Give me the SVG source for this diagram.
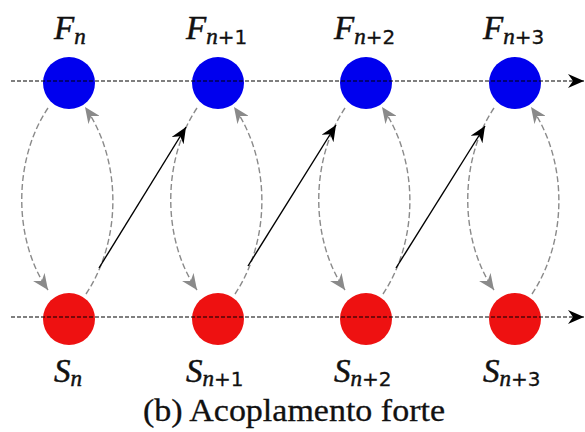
<svg xmlns="http://www.w3.org/2000/svg" width="585" height="432" viewBox="0 0 585 432">
<defs>
<style>
.f{fill:#0000ee;}
.s{fill:#ee1111;}
.axis{stroke:#000;stroke-width:1.1;stroke-dasharray:4 2;fill:none;}
.g{stroke:#8a8a8a;stroke-width:1.4;stroke-dasharray:6 3;fill:none;}
.b{stroke:#000;stroke-width:1.4;fill:none;}
.lbl{font-family:"Liberation Serif",serif;font-style:italic;font-size:33px;fill:#111;stroke:#111;stroke-width:0.5;}
.sub{font-size:23px;}
.num{font-family:"DejaVu Sans",sans-serif;font-style:normal;font-size:20px;stroke-width:0.3;}
.cap{font-family:"Liberation Serif",serif;font-size:31px;fill:#111;stroke:#111;stroke-width:0.3;}
</style>
<marker id="ag" markerUnits="userSpaceOnUse" markerWidth="18" markerHeight="14" refX="16" refY="7" orient="auto">
<path d="M0,0 L16,7 L0,14 L5,7 z" fill="#8a8a8a"/>
</marker>
<marker id="ab" markerUnits="userSpaceOnUse" markerWidth="18" markerHeight="14" refX="16" refY="7" orient="auto">
<path d="M0,0 L16,7 L0,14 L5,7 z" fill="#000"/>
</marker>
</defs>
<rect width="585" height="432" fill="#fff"/>

<g id="F0"><circle class="f" cx="69" cy="83" r="26"/></g>
<g id="F1"><circle class="f" cx="218" cy="83" r="26"/></g>
<g id="F2"><circle class="f" cx="366" cy="83" r="26"/></g>
<g id="F3"><circle class="f" cx="515" cy="83" r="26"/></g>
<g id="S0"><circle class="s" cx="69" cy="319" r="26"/></g>
<g id="S1"><circle class="s" cx="218" cy="319" r="26"/></g>
<g id="S2"><circle class="s" cx="366" cy="319" r="26"/></g>
<g id="S3"><circle class="s" cx="515" cy="319" r="26"/></g>

<g id="connectors">
<path class="axis" d="M11,81 L584,81" marker-end="url(#ab)"/>
<path class="axis" d="M11,317 L584,317" marker-end="url(#ab)"/>

<path class="g" d="M48,108 C13,160 13,240 48,290" marker-end="url(#ag)"/>
<path class="g" d="M86,294 C122,240 122,160 85,107" marker-end="url(#ag)"/>
<path class="g" d="M197,108 C162,160 162,240 197,290" marker-end="url(#ag)"/>
<path class="g" d="M235,294 C271,240 271,160 234,107" marker-end="url(#ag)"/>
<path class="g" d="M345,108 C310,160 310,240 345,290" marker-end="url(#ag)"/>
<path class="g" d="M383,294 C419,240 419,160 382,107" marker-end="url(#ag)"/>
<path class="g" d="M494,108 C459,160 459,240 494,290" marker-end="url(#ag)"/>
<path class="g" d="M532,294 C568,240 568,160 531,107" marker-end="url(#ag)"/>

<path class="b" d="M99,268 L186,127" marker-end="url(#ab)"/>
<path class="b" d="M248,266 L336,125" marker-end="url(#ab)"/>
<path class="b" d="M396,268 L485,126" marker-end="url(#ab)"/>
</g>

<g id="labels">
<text class="lbl" x="54" y="39">F<tspan class="sub" dy="5">n</tspan></text>
<text class="lbl" x="186" y="39">F<tspan class="sub" dy="5">n</tspan><tspan class="num">+1</tspan></text>
<text class="lbl" x="334" y="39">F<tspan class="sub" dy="5">n</tspan><tspan class="num">+2</tspan></text>
<text class="lbl" x="483" y="39">F<tspan class="sub" dy="5">n</tspan><tspan class="num">+3</tspan></text>
<text class="lbl" x="54" y="382">S<tspan class="sub" dy="4">n</tspan></text>
<text class="lbl" x="186" y="382">S<tspan class="sub" dy="4">n</tspan><tspan class="num">+1</tspan></text>
<text class="lbl" x="334" y="382">S<tspan class="sub" dy="4">n</tspan><tspan class="num">+2</tspan></text>
<text class="lbl" x="483" y="382">S<tspan class="sub" dy="4">n</tspan><tspan class="num">+3</tspan></text>
<text class="cap" x="143" y="421" textLength="302" lengthAdjust="spacingAndGlyphs">(b) Acoplamento forte</text>
</g>
</svg>
